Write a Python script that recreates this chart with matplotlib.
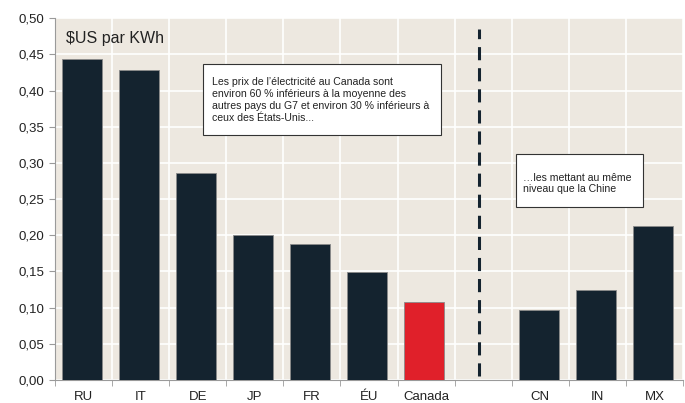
from matplotlib import pyplot as plt
from matplotlib.patches import Rectangle
import numpy as np

categories = ['RU', 'IT', 'DE', 'JP', 'FR', 'ÉU', 'Canada', '', 'CN', 'IN', 'MX']
prices = [0.443, 0.429, 0.286, 0.200, 0.188, 0.149, 0.108, np.nan, 0.097, 0.124, 0.213]
highlight = 'Canada'

NAVY = '#14232f'
RED = '#e0202a'
BG = '#ede8e0'
GREY = '#9a9a9a'

plt.rcParams['font.family'] = ['Liberation Sans', 'DejaVu Sans']

fig = plt.figure(figsize=(6.85, 4.03), dpi=100, facecolor='w')
ax = fig.add_axes([0.0803, 0.057, 0.9168, 0.898])
ax.set_facecolor(BG)

x = np.arange(len(categories))
colors = [RED if c == highlight else NAVY for c in categories]
ax.bar(x - 0.03, prices, width=0.7, color=colors, edgecolor='#8a8a8a', linewidth=0.6, zorder=3)

ax.set_xlim(-0.5, len(categories) - 0.5)
ax.set_ylim(0, 0.5)
yt = np.arange(0, 0.501, 0.05)
ax.set_yticks(yt)
ax.yaxis.set_ticklabels([('%.2f' % v).replace('.', ',') for v in yt])

ax.set_xticks(x)
ax.set_xticklabels(categories)
ax.set_xticks(np.arange(-0.5, len(categories)), minor=True)
ax.tick_params(axis='x', which='major', length=0, labelsize=9.5, colors='#222222', pad=8)
ax.tick_params(axis='x', which='minor', length=4, color=GREY)
ax.tick_params(axis='y', length=4, color=GREY, labelsize=9.5, labelcolor='#222222')

# white grid on slot boundaries and every 0.05
ax.grid(axis='y', color='white', linewidth=1.2, zorder=0)
ax.grid(axis='x', which='minor', color='white', linewidth=1.2, zorder=0)
ax.set_axisbelow(True)

for s in ['top', 'right']:
    ax.spines[s].set_visible(False)
ax.spines['left'].set_color(GREY)
ax.spines['bottom'].set_color(GREY)

# separator between G7 and others
ax.vlines(6.93, 0.005, 0.485, color=NAVY, linestyles=[(0, (4.3, 2.6))], linewidth=2.2, zorder=4)

ax.text(0.018, 0.965, '$US par KWh', transform=ax.transAxes, fontsize=11.5,
        va='top', ha='left', color='#222222')

# annotation boxes
for (bx, by, bw, bh) in [(0.2357, 0.677, 0.3789, 0.196), (0.734, 0.478, 0.202, 0.146)]:
    ax.add_patch(Rectangle((bx, by), bw, bh, transform=ax.transAxes, facecolor='white',
                           edgecolor='#333333', linewidth=0.8, zorder=5))

ax.text(0.25, 0.837,
        "Les prix de l\u2019électricité au Canada sont\n"
        "environ 60 % inférieurs à la moyenne des\n"
        "autres pays du G7 et environ 30 % inférieurs à\n"
        "ceux des États-Unis...",
        transform=ax.transAxes, fontsize=7.6, va='top', ha='left', color='#222222',
        linespacing=1.24, zorder=6)

ax.text(0.745, 0.572,
        "\u2026les mettant au même\nniveau que la Chine",
        transform=ax.transAxes, fontsize=7.6, va='top', ha='left', color='#222222',
        linespacing=1.17, zorder=6)

plt.savefig('out.png', dpi=100)
